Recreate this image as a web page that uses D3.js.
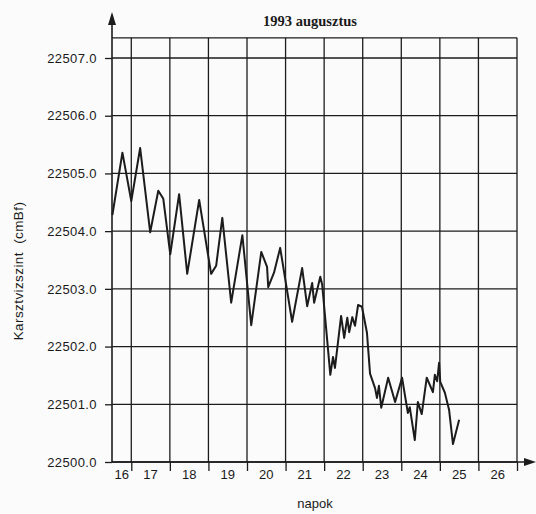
<!DOCTYPE html>
<html>
<head>
<meta charset="utf-8">
<script src="https://cdn.jsdelivr.net/npm/d3@7/dist/d3.min.js"></script>
<style>
  html, body { margin: 0; padding: 0; background: #fbfbfb; }
  svg { display: block; }
  text { fill: #1a1a1a; }
</style>
</head>
<body>
<svg id="chart" width="536" height="514"></svg>
<script>
// ---- data ----
const title = "1993 augusztus";
const yAxisTitle = "Karsztvizszint  (cmBf)";
const xAxisTitle = "napok";
const days = [
  16.51, 16.77, 17.00, 17.23, 17.49, 17.70, 17.83, 18.01, 18.24, 18.45,
  18.76, 19.07, 19.20, 19.36, 19.59, 19.88, 20.11, 20.37, 20.52, 20.55,
  20.70, 20.86, 21.17, 21.43, 21.56, 21.69, 21.74, 21.90, 21.95, 22.16,
  22.23, 22.28, 22.44, 22.52, 22.60, 22.65, 22.73, 22.80, 22.88, 22.98,
  23.11, 23.19, 23.32, 23.37, 23.42, 23.48, 23.66, 23.84, 24.02, 24.17,
  24.22, 24.35, 24.43, 24.53, 24.66, 24.82, 24.87, 24.93, 24.98, 25.01,
  25.13, 25.24, 25.34, 25.50
];
const levels = [
  22504.28, 22505.36, 22504.52, 22505.44, 22503.98, 22504.70, 22504.56, 22503.60, 22504.64, 22503.26,
  22504.54, 22503.26, 22503.40, 22504.23, 22502.76, 22503.93, 22502.37, 22503.64, 22503.38, 22503.03,
  22503.28, 22503.71, 22502.43, 22503.36, 22502.70, 22503.10, 22502.76, 22503.21, 22503.07, 22501.51,
  22501.82, 22501.63, 22502.53, 22502.15, 22502.50, 22502.25, 22502.51, 22502.36, 22502.72, 22502.69,
  22502.24, 22501.53, 22501.28, 22501.11, 22501.32, 22500.94, 22501.46, 22501.04, 22501.46, 22500.85,
  22500.95, 22500.38, 22501.04, 22500.83, 22501.46, 22501.21, 22501.51, 22501.40, 22501.72, 22501.39,
  22501.20, 22500.90, 22500.31, 22500.73
];
const yTicks = [22500, 22501, 22502, 22503, 22504, 22505, 22506, 22507];
const dayBoundaries = [17, 18, 19, 20, 21, 22, 23, 24, 25, 26, 27];
const dayLabels = ["16", "17", "18", "19", "20", "21", "22", "23", "24", "25", "26"];
const xDomain = [16.5, 27];
const yDomain = [22500, 22507];
const yTop = 22507.35;

// ---- layout ----
const svg = d3.select("#chart");
const ink = "#1c1c1c";
const x = d3.scaleLinear().domain(xDomain).range([112, 517]);
const y = d3.scaleLinear().domain(yDomain).range([462, 58]);

// grid
const grid = svg.append("g").attr("stroke", ink).attr("stroke-width", 1.3);
grid.selectAll("line.h").data(yTicks.concat([yTop])).join("line")
  .attr("x1", x(xDomain[0])).attr("x2", x(xDomain[1]))
  .attr("y1", d => y(d)).attr("y2", d => y(d));
grid.selectAll("line.v").data(dayBoundaries).join("line")
  .attr("x1", d => x(d)).attr("x2", d => x(d))
  .attr("y1", y(yDomain[0])).attr("y2", y(yTop));

// y axis
const yAxis = d3.axisLeft(y).tickValues(yTicks).tickFormat(d3.format(".1f"))
  .tickSize(7).tickPadding(8);
const gy = svg.append("g").attr("transform", `translate(${x(xDomain[0])},0)`).call(yAxis);
gy.select(".domain").remove();
gy.selectAll(".tick line").attr("stroke", ink).attr("stroke-width", 1.3);
gy.selectAll(".tick text")
  .attr("font-family", "'Liberation Sans', Arial, sans-serif")
  .attr("font-size", 13).attr("letter-spacing", "0.4px").attr("fill", ink);

// x axis ticks
const xAxis = d3.axisBottom(x).tickValues(dayBoundaries).tickFormat("").tickSize(9);
const gx = svg.append("g").attr("transform", `translate(0,${y(yDomain[0])})`).call(xAxis);
gx.select(".domain").remove();
gx.selectAll(".tick line").attr("stroke", ink).attr("stroke-width", 1.3);

// x labels in the middle of each day
svg.append("g").selectAll("text").data(dayLabels).join("text")
  .attr("x", d => { const s = Math.max(+d, xDomain[0]); return x((s + (+d + 1)) / 2); })
  .attr("y", y(yDomain[0]) + 17)
  .attr("text-anchor", "middle")
  .attr("font-family", "'Liberation Sans', Arial, sans-serif")
  .attr("font-size", 13).attr("fill", ink)
  .text(d => d);

// axis lines with arrows
const axisX0 = x(xDomain[0]), axisY0 = y(yDomain[0]);
svg.append("line").attr("x1", axisX0).attr("x2", axisX0)
  .attr("y1", axisY0).attr("y2", 20).attr("stroke", ink).attr("stroke-width", 1.6);
svg.append("path").attr("d", `M${axisX0},12 L${axisX0 - 4},25 L${axisX0 + 4},25 Z`).attr("fill", ink);
svg.append("line").attr("x1", axisX0).attr("x2", 528)
  .attr("y1", axisY0).attr("y2", axisY0).attr("stroke", ink).attr("stroke-width", 1.6);
svg.append("path").attr("d", `M536,${axisY0} L524,${axisY0 - 4} L524,${axisY0 + 4} Z`).attr("fill", ink);

// data line
const line = d3.line().x((d, i) => x(days[i])).y(d => y(d));
svg.append("path").datum(levels).attr("d", line)
  .attr("fill", "none").attr("stroke", ink).attr("stroke-width", 2)
  .attr("stroke-linejoin", "round");

// titles
svg.append("text").attr("x", 310).attr("y", 26).attr("text-anchor", "middle")
  .attr("font-family", "'Liberation Serif', 'Times New Roman', serif")
  .attr("font-weight", "bold").attr("font-size", 14.5).text(title);
svg.append("text").attr("x", 315).attr("y", 508).attr("text-anchor", "middle")
  .attr("font-family", "'Liberation Sans', Arial, sans-serif")
  .attr("font-size", 13).text(xAxisTitle);
svg.append("text").attr("transform", "translate(23,271) rotate(-90)")
  .attr("text-anchor", "middle")
  .attr("font-family", "'Liberation Sans', Arial, sans-serif")
  .attr("font-size", 13.5).attr("letter-spacing", "0.4px")
  .style("white-space", "pre").text(yAxisTitle);
</script>
</body>
</html>
